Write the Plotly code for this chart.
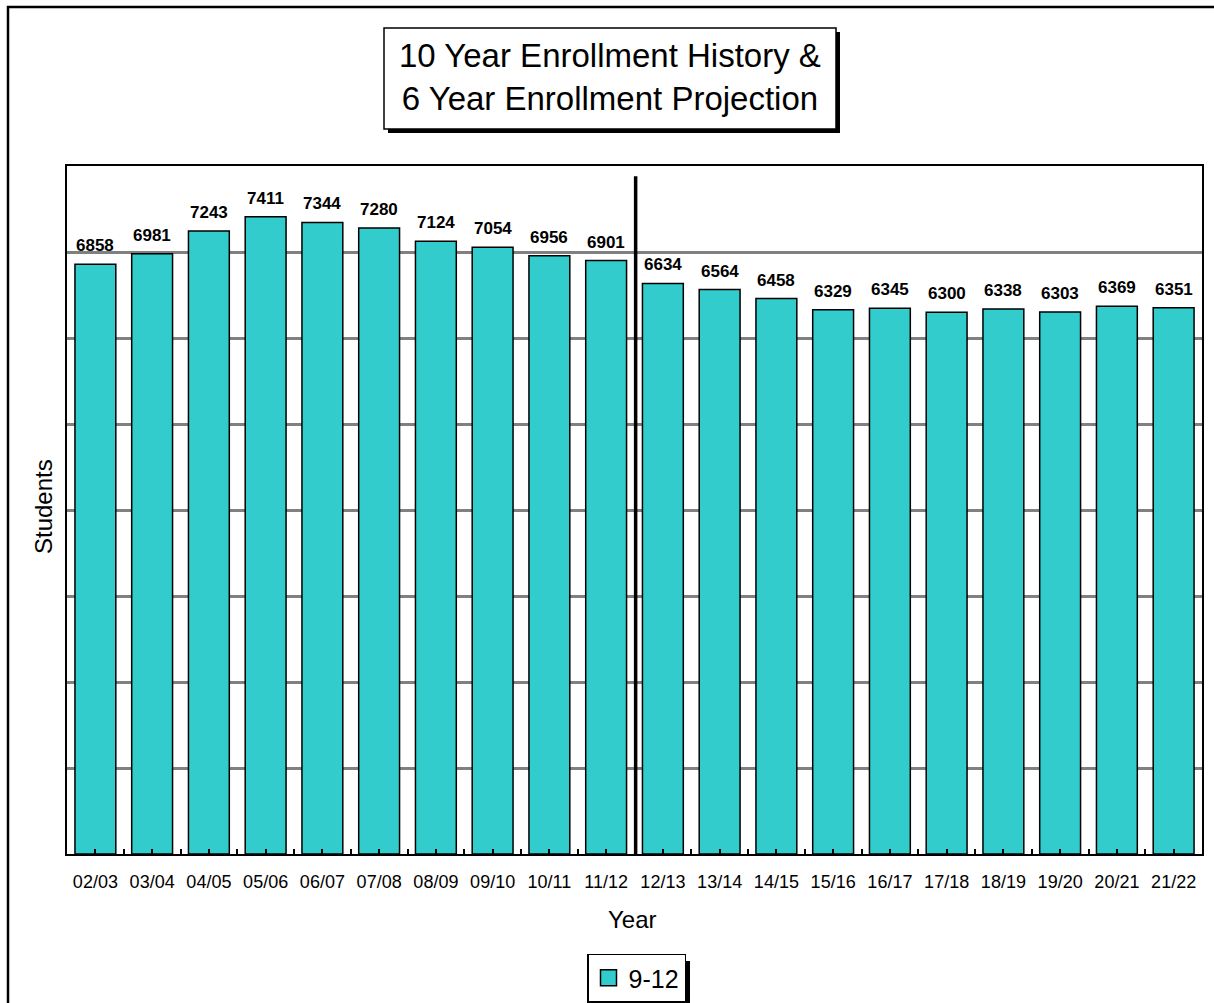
import plotly.graph_objects as go

# Enrollment data: 10 years of history followed by 10 projected years
years = ["02/03", "03/04", "04/05", "05/06", "06/07", "07/08", "08/09", "09/10",
         "10/11", "11/12", "12/13", "13/14", "14/15", "15/16", "16/17", "17/18",
         "18/19", "19/20", "20/21", "21/22"]
students = [6858, 6981, 7243, 7411, 7344, 7280, 7124, 7054, 6956, 6901,
            6634, 6564, 6458, 6329, 6345, 6300, 6338, 6303, 6369, 6351]
series_name = "9-12"
history_count = 10

W, H = 1214, 1003
L, R, T, B = 67, 1202, 166, 854  # plot area in pixels


def px(x):
    return (x - L) / (R - L)


def py(y):
    return (B - y) / (B - T)


FONT = "Liberation Sans, Arial, sans-serif"
TEAL = "#33CCCC"

xs = list(range(len(years)))

fig = go.Figure()
fig.add_trace(go.Bar(
    x=xs, y=students, name=series_name,
    marker=dict(color=TEAL, line=dict(color="black", width=1.5)),
    width=0.72, showlegend=False,
))
# legend entry with a larger square swatch
fig.add_trace(go.Scatter(
    x=[None], y=[None], mode="markers", name=series_name,
    marker=dict(symbol="square", size=18, color=TEAL, line=dict(color="black", width=1.5)),
    showlegend=True,
))

annotations = []
# value labels above each bar
for x, v in zip(xs, students):
    annotations.append(dict(
        x=x, y=v, xref="x", yref="y", text=str(v), showarrow=False,
        yanchor="bottom", yshift=7,
        font=dict(family=FONT, size=17, color="black", weight="bold"),
    ))

# title text
annotations.append(dict(
    x=px(610), y=py(77), xref="paper", yref="paper", showarrow=False,
    text="10 Year Enrollment History &<br>6 Year Enrollment Projection",
    font=dict(family=FONT, size=33, color="black"),
    xanchor="center", yanchor="middle", align="center",
))
# axis titles
annotations.append(dict(
    x=px(632), y=py(919), xref="paper", yref="paper", showarrow=False,
    text="Year", font=dict(family=FONT, size=24, color="black"),
    xanchor="center", yanchor="middle",
))
annotations.append(dict(
    x=px(43), y=py(507), xref="paper", yref="paper", showarrow=False,
    text="Students", textangle=-90, font=dict(family=FONT, size=24, color="black"),
    xanchor="center", yanchor="middle",
))

shapes = [
    # outer frame (top and left edges show inside the page)
    dict(type="rect", xref="paper", yref="paper",
         x0=px(8), x1=px(1240), y0=py(7), y1=py(1040),
         line=dict(color="black", width=2.5), fillcolor="rgba(0,0,0,0)", layer="below"),
    # title box shadow and box
    dict(type="rect", xref="paper", yref="paper",
         x0=px(388), x1=px(840), y0=py(32), y1=py(133),
         line=dict(width=0), fillcolor="black"),
    dict(type="rect", xref="paper", yref="paper",
         x0=px(384), x1=px(836), y0=py(28), y1=py(129),
         line=dict(color="black", width=1.5), fillcolor="white"),
    # legend shadow
    dict(type="rect", xref="paper", yref="paper",
         x0=px(592), x1=px(690), y0=py(961), y1=py(1008),
         line=dict(width=0), fillcolor="black"),
    # divider between history and projection
    dict(type="line", xref="x", yref="y",
         x0=history_count - 0.48, x1=history_count - 0.48, y0=0, y1=7880,
         line=dict(color="black", width=3.5)),
]

fig.update_layout(
    width=W, height=H,
    margin=dict(l=L, r=W - R, t=T, b=H - B, autoexpand=False),
    paper_bgcolor="white", plot_bgcolor="white",
    font=dict(family=FONT, color="black"),
    bargap=0.28,
    showlegend=True,
    legend=dict(
        x=px(636.5), y=py(978), xanchor="center", yanchor="middle",
        xref="paper", yref="paper",
        bgcolor="white", bordercolor="black", borderwidth=1.5,
        font=dict(family=FONT, size=25, color="black"),
        itemwidth=30, itemsizing="trace",
    ),
    annotations=annotations,
    shapes=shapes,
    xaxis=dict(
        range=[-0.5, len(years) - 0.5],
        tickmode="array", tickvals=xs, ticktext=years,
        ticks="inside", ticklen=5, tickwidth=1.5, tickcolor="black",
        minor=dict(ticks="inside", ticklen=5, tickwidth=1.5, tickcolor="black",
                   tickmode="array", tickvals=[x + 0.5 for x in xs[:-1]]),
        tickfont=dict(family=FONT, size=18, color="black"),
        ticklabelstandoff=10,
        showline=True, linecolor="black", linewidth=2, mirror=True,
        showgrid=False, zeroline=False,
    ),
    yaxis=dict(
        range=[0, 8000], dtick=1000, tick0=0,
        showticklabels=False, ticks="",
        showgrid=True, gridcolor="#808080", gridwidth=2.5,
        showline=True, linecolor="black", linewidth=2, mirror=True,
        zeroline=False,
    ),
)

fig.write_html("out.html")
